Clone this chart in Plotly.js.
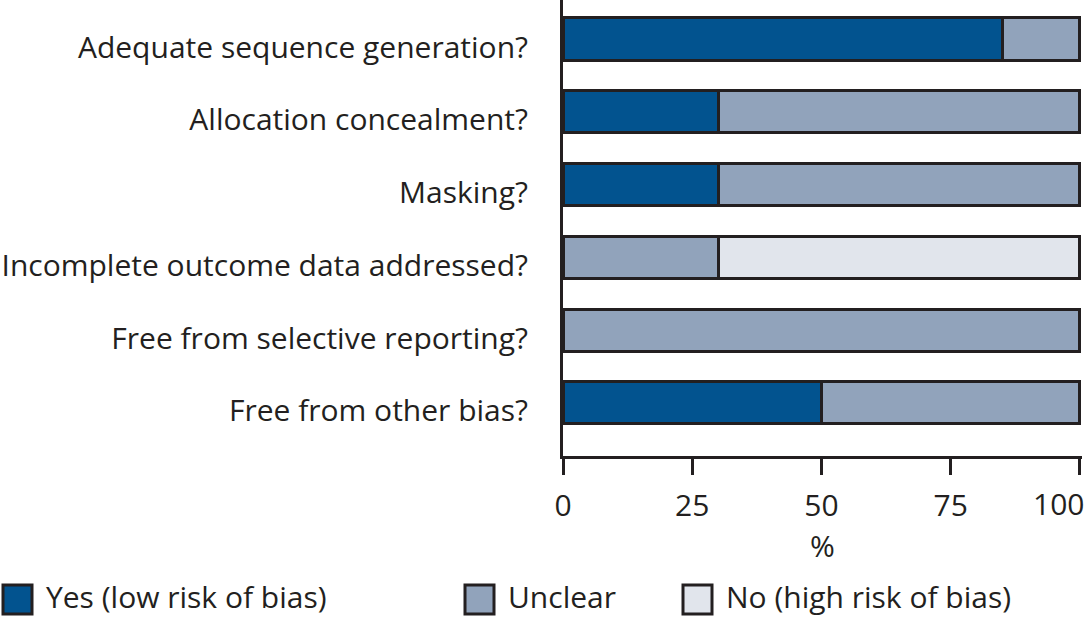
<!DOCTYPE html>
<html>
<head>
<meta charset="utf-8">
<script src="https://cdn.plot.ly/plotly-3.0.1.min.js"></script>
<style>html,body{margin:0;padding:0;background:#fff;}#chart{width:1088px;height:617px;}</style>
</head>
<body>
<div id="chart"></div>
<script>
const categories = [
  "Adequate sequence generation?",
  "Allocation concealment?",
  "Masking?",
  "Incomplete outcome data addressed?",
  "Free from selective reporting?",
  "Free from other bias?"
];
const yesValues = [85, 30, 30, 0, 0, 50];
const unclearValues = [15, 70, 70, 30, 100, 50];
const noValues = [0, 0, 0, 70, 0, 0];
const seriesNames = ["Yes (low risk of bias)", "Unclear", "No (high risk of bias)"];
const seriesColors = ["#02538f", "#91a3bb", "#e1e5ec"];
const xTicks = [0, 25, 50, 75, 100];
const xTickLabels = ["0", "25", "50", "75", "100"];

const ink = "#231f20";
const font = {family: "Open Sans, sans-serif", size: 30, color: ink};
const pos = categories.map((c, i) => i);
const lastTick = xTicks.length - 1;
// the last tick label is drawn as an annotation, right-aligned at its tick, so it stays inside the page
const xTickText = xTickLabels.map((t, i) => (i === lastTick ? "" : t));

const seriesValues = [yesValues, unclearValues, noValues];
const traces = seriesValues.map((vals, k) => ({
  type: "bar",
  orientation: "h",
  x: vals,
  y: pos,
  name: seriesNames[k],
  width: 0.58,
  marker: {color: seriesColors[k], line: {color: ink, width: 3}},
  showlegend: false,
  hoverinfo: "x+name"
}));

const L = 563, R = 1082, T = 0, B = 456;
const toPX = p => (p - L) / (R - L);
const toPY = p => (B - p) / (B - T);

// custom legend (boxes + labels) in paper coordinates
const legendX = [3, 465, 683];
const shapes = [];
const annotations = [];
legendX.forEach((lx, k) => {
  shapes.push({
    type: "rect", xref: "paper", yref: "paper",
    x0: toPX(lx), x1: toPX(lx + 29), y0: toPY(614), y1: toPY(585),
    fillcolor: seriesColors[k], line: {color: ink, width: 3}
  });
  annotations.push({
    xref: "paper", yref: "paper", x: toPX(lx + 42), y: toPY(596),
    xanchor: "left", yanchor: "middle", showarrow: false, borderpad: 0,
    text: seriesNames[k], font: font
  });
});
annotations.push({
  xref: "x", yref: "paper", x: xTicks[lastTick], y: toPY(503), xshift: 5,
  xanchor: "right", yanchor: "middle", showarrow: false, borderpad: 0,
  text: xTickLabels[lastTick], font: font
});

const layout = {
  width: 1088, height: 617,
  margin: {l: L, r: 1088 - R, t: T, b: 617 - B, pad: 0},
  paper_bgcolor: "#fff", plot_bgcolor: "#fff",
  barmode: "stack",
  font: font,
  xaxis: {
    range: [0, 100.4], tickvals: xTicks, ticktext: xTickText,
    showgrid: false, zeroline: false,
    showline: true, linecolor: ink, linewidth: 3,
    ticks: "outside", ticklen: 16, tickwidth: 3, tickcolor: ink,
    tickfont: font, ticklabelstandoff: 5,
    title: {text: "%", font: font, standoff: 0},
    fixedrange: true
  },
  yaxis: {
    range: [5.73, -0.537], tickvals: pos, ticktext: categories,
    showgrid: false, zeroline: false,
    showline: true, linecolor: ink, linewidth: 3,
    ticks: "", ticklabelstandoff: 26, ticklabelshift: -8,
    tickfont: font, fixedrange: true
  },
  shapes: shapes,
  annotations: annotations
};

Plotly.newPlot("chart", traces, layout, {displayModeBar: false, staticPlot: true});
</script>
</body>
</html>
